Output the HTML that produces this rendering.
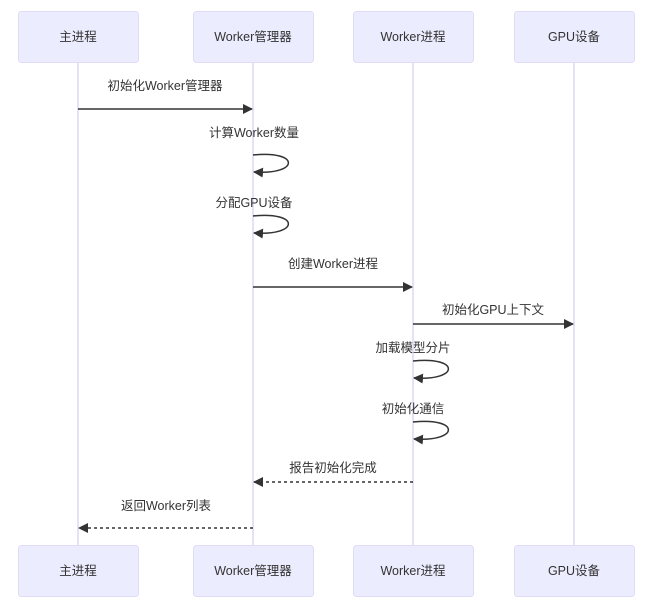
<!DOCTYPE html>
<html><head><meta charset="utf-8"><style>
html,body{margin:0;padding:0;background:#fff;}
svg text{font-family:"Liberation Sans","Noto Sans CJK SC",sans-serif;font-size:12.5px;fill:#333;}
</style></head><body>
<svg width="645" height="606" viewBox="0 0 645 606" xmlns="http://www.w3.org/2000/svg">
<defs>
<marker id="a" markerWidth="10" markerHeight="10" refX="9" refY="5" orient="auto" markerUnits="userSpaceOnUse">
<path d="M0,0 L10,5 L0,10 z" fill="#333"/></marker>
</defs>
<g stroke="#ddd6f5" stroke-width="1.5">
<line x1="78" y1="63" x2="78" y2="545"/>
<line x1="253" y1="63" x2="253" y2="545"/>
<line x1="413" y1="63" x2="413" y2="545"/>
<line x1="574" y1="63" x2="574" y2="545"/>
</g>
<g fill="#ececff" stroke="#e0dbf7" stroke-width="1">
<rect x="18.5" y="11.5" width="120" height="51" rx="3"/>
<rect x="193.5" y="11.5" width="120" height="51" rx="3"/>
<rect x="353.5" y="11.5" width="120" height="51" rx="3"/>
<rect x="514.5" y="11.5" width="120" height="51" rx="3"/>
<rect x="18.5" y="545.5" width="120" height="51" rx="3"/>
<rect x="193.5" y="545.5" width="120" height="51" rx="3"/>
<rect x="353.5" y="545.5" width="120" height="51" rx="3"/>
<rect x="514.5" y="545.5" width="120" height="51" rx="3"/>
</g>
<g text-anchor="middle" dominant-baseline="central">
<text x="78" y="37">主进程</text><text x="253" y="37">Worker管理器</text>
<text x="413" y="37">Worker进程</text><text x="574" y="37">GPU设备</text>
<text x="78" y="571">主进程</text><text x="253" y="571">Worker管理器</text>
<text x="413" y="571">Worker进程</text><text x="574" y="571">GPU设备</text>
<text x="165" y="86">初始化Worker管理器</text>
<text x="254" y="133">计算Worker数量</text>
<text x="254" y="203">分配GPU设备</text>
<text x="333" y="264">创建Worker进程</text>
<text x="493" y="310">初始化GPU上下文</text>
<text x="413" y="348">加载模型分片</text>
<text x="413" y="409">初始化通信</text>
<text x="333" y="468">报告初始化完成</text>
<text x="166" y="506">返回Worker列表</text>
</g>
<g stroke="#333" stroke-width="1.5" fill="none">
<line x1="78" y1="109" x2="252" y2="109" marker-end="url(#a)"/>
<path d="M253,155 C300,150 300,175 254,172" marker-end="url(#a)"/>
<path d="M253,216 C300,211 300,236 254,233" marker-end="url(#a)"/>
<line x1="253" y1="287" x2="412" y2="287" marker-end="url(#a)"/>
<line x1="413" y1="324" x2="573" y2="324" marker-end="url(#a)"/>
<path d="M413,361 C460,356 460,381 414,378" marker-end="url(#a)"/>
<path d="M413,422 C460,417 460,442 414,439" marker-end="url(#a)"/>
<line x1="413" y1="482" x2="254" y2="482" stroke-dasharray="3,3" marker-end="url(#a)"/>
<line x1="253" y1="528" x2="79" y2="528" stroke-dasharray="3,3" marker-end="url(#a)"/>
</g>
</svg>
</body></html>
